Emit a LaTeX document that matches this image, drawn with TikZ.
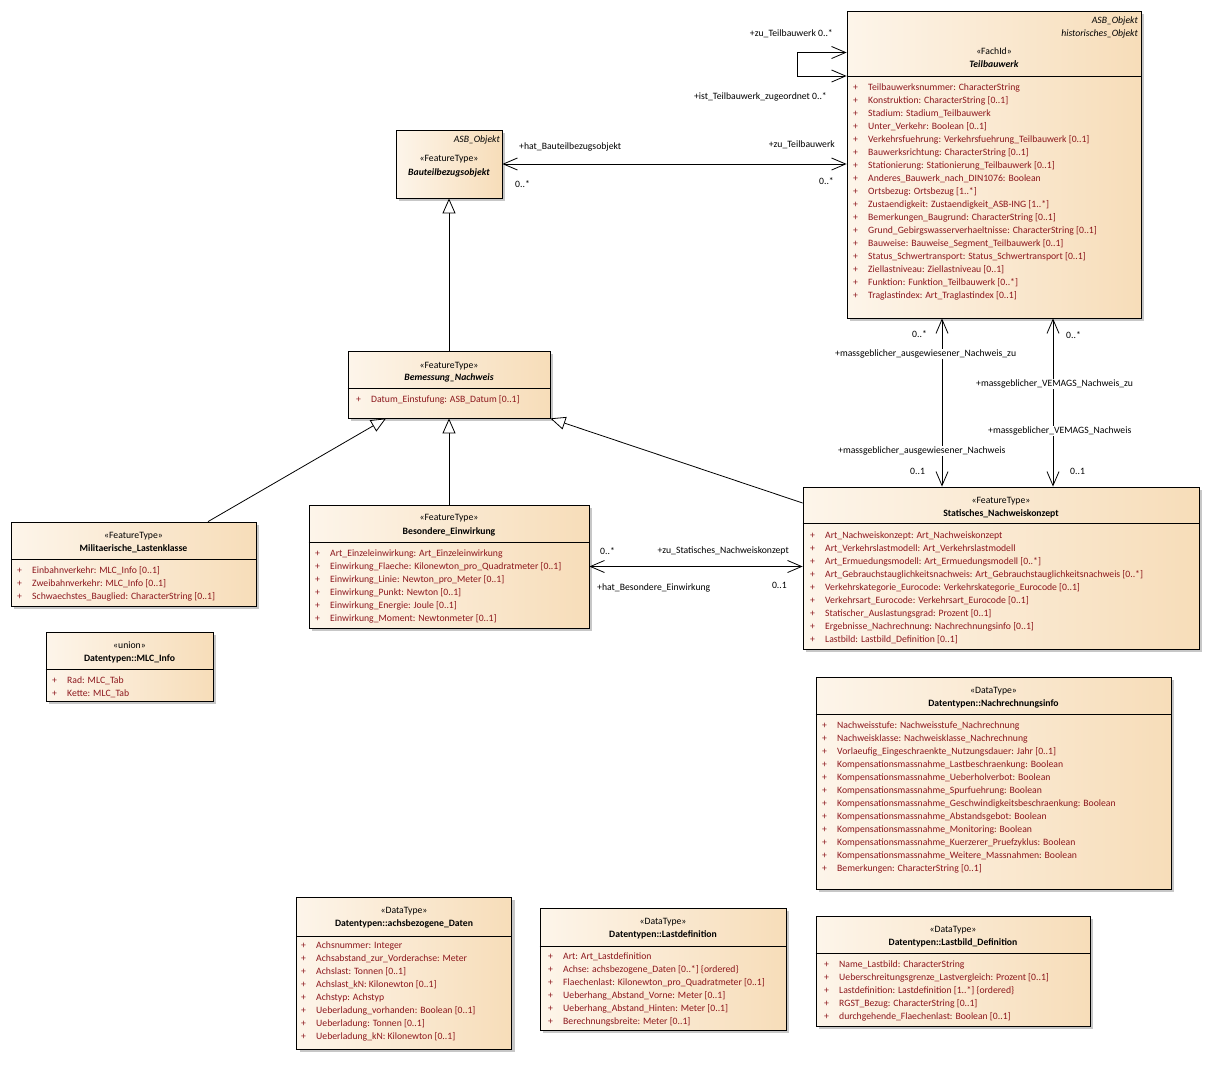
\documentclass[tikz,border=0pt]{standalone}
\usepackage{fontspec}
\setmainfont{Carlito}
\usetikzlibrary{arrows.meta,shadows}
\definecolor{clsleft}{RGB}{253,245,234}
\definecolor{clsright}{RGB}{247,221,185}
\definecolor{attrred}{RGB}{140,22,28}
\newcommand{\plusmark}{\makebox[15pt][l]{+}}
\tikzset{
  cls/.style={draw=black, line width=0.8pt, inner sep=0pt, left color=clsleft, right color=clsright,
    drop shadow={shadow xshift=3pt, shadow yshift=-3pt, fill=black!22, opacity=1}},
  hdr/.style={font=\fontsize{9.7}{13}\selectfont, inner sep=0pt, anchor=mid, yshift=-1pt},
  attrs/.style={font=\fontsize{9.7}{13}\selectfont, text=attrred, align=left, inner sep=0pt, anchor=north west, yshift=-1pt},
  role/.style={font=\fontsize{9.7}{13}\selectfont, inner sep=1pt, fill=white, yshift=-1pt},
  assoc/.style={line width=0.8pt, {Straight Barb[length=14pt,width=12pt]}-{Straight Barb[length=14pt,width=12pt]}},
  gen/.style={line width=0.8pt, -{Triangle[length=15pt,width=13pt,fill=white]}},
  sep/.style={line width=0.8pt}
}
\begin{document}
\begin{tikzpicture}[x=1pt,y=-1pt]
\useasboundingbox (0,0) rectangle (1210,1079);
\fill[white] (0,0) rectangle (1210,1079);

% Teilbauwerk
\node[cls, minimum width=294pt, minimum height=307pt] (tbw) at (994,164.5) {};
\node[hdr, anchor=mid east] (tbwp1) at (1138,20) {\textit{ASB\_Objekt}};
\node[hdr, anchor=mid east] (tbwp2) at (1138,33) {\textit{historisches\_Objekt}};
\node[hdr] (tbwst) at (994,51.5) {«FachId»};
\node[hdr] (tbwnm) at (994,64.5) {\textbf{\textit{Teilbauwerk}}};
\draw[sep] (tbw.west |- 0,76) -- (tbw.east |- 0,76);
\node[attrs] (tbwat) at (853,80.5) {\strut\plusmark Teilbauwerksnummer: CharacterString\\
\plusmark Konstruktion: CharacterString [0..1]\\
\plusmark Stadium: Stadium\_Teilbauwerk\\
\plusmark Unter\_Verkehr: Boolean [0..1]\\
\plusmark Verkehrsfuehrung: Verkehrsfuehrung\_Teilbauwerk [0..1]\\
\plusmark Bauwerksrichtung: CharacterString [0..1]\\
\plusmark Stationierung: Stationierung\_Teilbauwerk [0..1]\\
\plusmark Anderes\_Bauwerk\_nach\_DIN1076: Boolean\\
\plusmark Ortsbezug: Ortsbezug [1..*]\\
\plusmark Zustaendigkeit: Zustaendigkeit\_ASB-ING [1..*]\\
\plusmark Bemerkungen\_Baugrund: CharacterString [0..1]\\
\plusmark Grund\_Gebirgswasserverhaeltnisse: CharacterString [0..1]\\
\plusmark Bauweise: Bauweise\_Segment\_Teilbauwerk [0..1]\\
\plusmark Status\_Schwertransport: Status\_Schwertransport [0..1]\\
\plusmark Ziellastniveau: Ziellastniveau [0..1]\\
\plusmark Funktion: Funktion\_Teilbauwerk [0..*]\\
\plusmark Traglastindex: Art\_Traglastindex [0..1]};

% Bauteilbezugsobjekt
\node[cls, minimum width=106pt, minimum height=68pt] (bbo) at (449,164) {};
\node[hdr, anchor=mid east] (bbop) at (500,139) {\textit{ASB\_Objekt}};
\node[hdr] (bbost) at (449,158) {«FeatureType»};
\node[hdr] (bbonm) at (449,172) {\textbf{\textit{Bauteilbezugsobjekt}}};

% Bemessung_Nachweis
\node[cls, minimum width=202pt, minimum height=67pt] (bem) at (449,384.5) {};
\node[hdr] (bemst) at (449,365) {«FeatureType»};
\node[hdr] (bemnm) at (449,377.5) {\textbf{\textit{Bemessung\_Nachweis}}};
\draw[sep] (bem.west |- 0,388.5) -- (bem.east |- 0,388.5);
\node[attrs] (bemat) at (356,392) {\strut\plusmark Datum\_Einstufung: ASB\_Datum [0..1]};

% Militaerische_Lastenklasse
\node[cls, minimum width=245pt, minimum height=84pt] (mil) at (133.5,564) {};
\node[hdr] (milst) at (133.5,535) {«FeatureType»};
\node[hdr] (milnm) at (133.5,548) {\textbf{Militaerische\_Lastenklasse}};
\draw[sep] (mil.west |- 0,559) -- (mil.east |- 0,559);
\node[attrs] (milat) at (17,563.5) {\strut\plusmark Einbahnverkehr: MLC\_Info [0..1]\\
\plusmark Zweibahnverkehr: MLC\_Info [0..1]\\
\plusmark Schwaechstes\_Bauglied: CharacterString [0..1]};

% MLC_Info
\node[cls, minimum width=167pt, minimum height=69pt] (mlc) at (129.5,666.5) {};
\node[hdr] (mlcst) at (129.5,645) {«union»};
\node[hdr] (mlcnm) at (129.5,658) {\textbf{Datentypen::MLC\_Info}};
\draw[sep] (mlc.west |- 0,669) -- (mlc.east |- 0,669);
\node[attrs] (mlcat) at (52,673.5) {\strut\plusmark Rad: MLC\_Tab\\
\plusmark Kette: MLC\_Tab};

% Besondere_Einwirkung
\node[cls, minimum width=280pt, minimum height=123pt] (bes) at (449,566.5) {};
\node[hdr] (besst) at (449,517) {«FeatureType»};
\node[hdr] (besnm) at (449,531) {\textbf{Besondere\_Einwirkung}};
\draw[sep] (bes.west |- 0,542) -- (bes.east |- 0,542);
\node[attrs] (besat) at (315,546.5) {\strut\plusmark Art\_Einzeleinwirkung: Art\_Einzeleinwirkung\\
\plusmark Einwirkung\_Flaeche: Kilonewton\_pro\_Quadratmeter [0..1]\\
\plusmark Einwirkung\_Linie: Newton\_pro\_Meter [0..1]\\
\plusmark Einwirkung\_Punkt: Newton [0..1]\\
\plusmark Einwirkung\_Energie: Joule [0..1]\\
\plusmark Einwirkung\_Moment: Newtonmeter [0..1]};

% Statisches_Nachweiskonzept
\node[cls, minimum width=396pt, minimum height=162pt] (snk) at (1001,568) {};
\node[hdr] (snkst) at (1001,500) {«FeatureType»};
\node[hdr] (snknm) at (1001,513) {\textbf{Statisches\_Nachweiskonzept}};
\draw[sep] (snk.west |- 0,523) -- (snk.east |- 0,523);
\node[attrs] (snkat) at (810,528.5) {\strut\plusmark Art\_Nachweiskonzept: Art\_Nachweiskonzept\\
\plusmark Art\_Verkehrslastmodell: Art\_Verkehrslastmodell\\
\plusmark Art\_Ermuedungsmodell: Art\_Ermuedungsmodell [0..*]\\
\plusmark Art\_Gebrauchstauglichkeitsnachweis: Art\_Gebrauchstauglichkeitsnachweis [0..*]\\
\plusmark Verkehrskategorie\_Eurocode: Verkehrskategorie\_Eurocode [0..1]\\
\plusmark Verkehrsart\_Eurocode: Verkehrsart\_Eurocode [0..1]\\
\plusmark Statischer\_Auslastungsgrad: Prozent [0..1]\\
\plusmark Ergebnisse\_Nachrechnung: Nachrechnungsinfo [0..1]\\
\plusmark Lastbild: Lastbild\_Definition [0..1]};

% Nachrechnungsinfo
\node[cls, minimum width=355pt, minimum height=212pt] (nri) at (993.5,783) {};
\node[hdr] (nrist) at (993.5,690) {«DataType»};
\node[hdr] (nrinm) at (993.5,703) {\textbf{Datentypen::Nachrechnungsinfo}};
\draw[sep] (nri.west |- 0,714) -- (nri.east |- 0,714);
\node[attrs] (nriat) at (822,718.5) {\strut\plusmark Nachweisstufe: Nachweisstufe\_Nachrechnung\\
\plusmark Nachweisklasse: Nachweisklasse\_Nachrechnung\\
\plusmark Vorlaeufig\_Eingeschraenkte\_Nutzungsdauer: Jahr [0..1]\\
\plusmark Kompensationsmassnahme\_Lastbeschraenkung: Boolean\\
\plusmark Kompensationsmassnahme\_Ueberholverbot: Boolean\\
\plusmark Kompensationsmassnahme\_Spurfuehrung: Boolean\\
\plusmark Kompensationsmassnahme\_Geschwindigkeitsbeschraenkung: Boolean\\
\plusmark Kompensationsmassnahme\_Abstandsgebot: Boolean\\
\plusmark Kompensationsmassnahme\_Monitoring: Boolean\\
\plusmark Kompensationsmassnahme\_Kuerzerer\_Pruefzyklus: Boolean\\
\plusmark Kompensationsmassnahme\_Weitere\_Massnahmen: Boolean\\
\plusmark Bemerkungen: CharacterString [0..1]};

% achsbezogene_Daten
\node[cls, minimum width=215pt, minimum height=152pt] (acd) at (404,973) {};
\node[hdr] (acdst) at (404,910) {«DataType»};
\node[hdr] (acdnm) at (404,923) {\textbf{Datentypen::achsbezogene\_Daten}};
\draw[sep] (acd.west |- 0,936) -- (acd.east |- 0,936);
\node[attrs] (acdat) at (301,938.5) {\strut\plusmark Achsnummer: Integer\\
\plusmark Achsabstand\_zur\_Vorderachse: Meter\\
\plusmark Achslast: Tonnen [0..1]\\
\plusmark Achslast\_kN: Kilonewton [0..1]\\
\plusmark Achstyp: Achstyp\\
\plusmark Ueberladung\_vorhanden: Boolean [0..1]\\
\plusmark Ueberladung: Tonnen [0..1]\\
\plusmark Ueberladung\_kN: Kilonewton [0..1]};

% Lastdefinition
\node[cls, minimum width=246pt, minimum height=122pt] (ld) at (663,969) {};
\node[hdr] (ldst) at (663,921) {«DataType»};
\node[hdr] (ldnm) at (663,934) {\textbf{Datentypen::Lastdefinition}};
\draw[sep] (ld.west |- 0,946) -- (ld.east |- 0,946);
\node[attrs] (ldat) at (548,949.5) {\strut\plusmark Art: Art\_Lastdefinition\\
\plusmark Achse: achsbezogene\_Daten [0..*] \{ordered\}\\
\plusmark Flaechenlast: Kilonewton\_pro\_Quadratmeter [0..1]\\
\plusmark Ueberhang\_Abstand\_Vorne: Meter [0..1]\\
\plusmark Ueberhang\_Abstand\_Hinten: Meter [0..1]\\
\plusmark Berechnungsbreite: Meter [0..1]};

% Lastbild_Definition
\node[cls, minimum width=274pt, minimum height=110pt] (lbd) at (953,971) {};
\node[hdr] (lbdst) at (953,929) {«DataType»};
\node[hdr] (lbdnm) at (953,942) {\textbf{Datentypen::Lastbild\_Definition}};
\draw[sep] (lbd.west |- 0,953) -- (lbd.east |- 0,953);
\node[attrs] (lbdat) at (824,957.5) {\strut\plusmark Name\_Lastbild: CharacterString\\
\plusmark Ueberschreitungsgrenze\_Lastvergleich: Prozent [0..1]\\
\plusmark Lastdefinition: Lastdefinition [1..*] \{ordered\}\\
\plusmark RGST\_Bezug: CharacterString [0..1]\\
\plusmark durchgehende\_Flaechenlast: Boolean [0..1]};

% associations
\coordinate (loop1) at (797,52.5);
\coordinate (loop2) at (797,76);
\draw[assoc] (tbw.west |- loop1) -- (loop1) -- (loop2) -- (tbw.west |- loop2);
\draw[assoc] (bbo.east) -- (bbo.east -| tbw.west);
\draw[assoc] (bes.east) -- (bes.east -| snk.west);
\draw[assoc] ([xshift=-52pt]tbw.south) -- ([xshift=-52pt]tbw.south |- snk.north);
\draw[assoc] ([xshift=59pt]tbw.south) -- ([xshift=59pt]tbw.south |- snk.north);

% generalisations
\draw[gen] (bem.north) -- (bbo.south);
\draw[gen] (bes.north) -- (bem.south);
\draw[gen] ([xshift=74.5pt]mil.north) -- ([xshift=-63pt]bem.south);
\draw[gen] ([yshift=65pt]snk.west) -- (bem.south east);

% role names
\node[role, anchor=mid east] (r1) at (834,33) {+zu\_Teilbauwerk 0..*};
\node[role, anchor=mid east] (r2) at (828,96) {+ist\_Teilbauwerk\_zugeordnet 0..*};
\node[role, anchor=mid west] (r3) at (518,146) {+hat\_Bauteilbezugsobjekt};
\node[role, anchor=mid west] (r4) at (514,184) {0..*};
\node[role, anchor=mid east] (r5) at (836,144) {+zu\_Teilbauwerk};
\node[role, anchor=mid east] (r6) at (835,181) {0..*};
\node[role, anchor=mid west] (r7) at (911,334) {0..*};
\node[role, anchor=mid west] (r8) at (834,353) {+massgeblicher\_ausgewiesener\_Nachweis\_zu};
\node[role, anchor=mid west] (r9) at (837,450) {+massgeblicher\_ausgewiesener\_Nachweis};
\node[role, anchor=mid west] (r10) at (909,471) {0..1};
\node[role, anchor=mid west] (r11) at (1065,335) {0..*};
\node[role, anchor=mid west] (r12) at (975,383) {+massgeblicher\_VEMAGS\_Nachweis\_zu};
\node[role, anchor=mid west] (r13) at (987,430) {+massgeblicher\_VEMAGS\_Nachweis};
\node[role, anchor=mid west] (r14) at (1069,471) {0..1};
\node[role, anchor=mid west] (r15) at (599,551) {0..*};
\node[role, anchor=mid east] (r16) at (790,550) {+zu\_Statisches\_Nachweiskonzept};
\node[role, anchor=mid west] (r17) at (596,587) {+hat\_Besondere\_Einwirkung};
\node[role, anchor=mid east] (r18) at (788,585) {0..1};
\end{tikzpicture}
\end{document}
